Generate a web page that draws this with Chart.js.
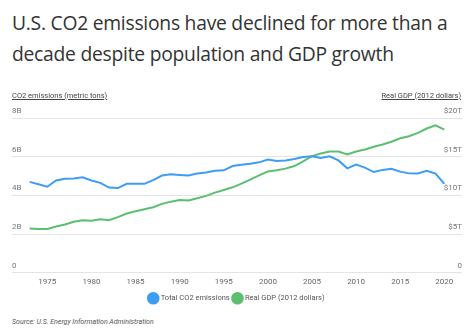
<!DOCTYPE html>
<html>
<head>
<meta charset="utf-8">
<script src="https://cdn.jsdelivr.net/npm/chart.js@4"></script>
<style>
  html, body { margin: 0; padding: 0; background: #fff; }
  body { width: 474px; height: 331px; position: relative; overflow: hidden; font-family: "Open Sans", sans-serif; }
  #title { position: absolute; left: 12px; top: 7px; width: 460px; font-size: 19.3px; line-height: 31px; color: #333; letter-spacing: -0.25px; }
  .axisTitle { position: absolute; top: 91px; font-family: Roboto, sans-serif; font-size: 7.5px; color: #444; text-decoration: underline; }
  #leftTitle { left: 12px; }
  #rightTitle { right: 13px; }
  #source { position: absolute; left: 12px; top: 318px; font-family: Roboto, sans-serif; font-size: 7px; font-style: italic; color: #555; }
  #wrap { position: absolute; left: 0; top: 0; width: 474px; height: 312px; }
</style>
</head>
<body>
<div id="title">U.S. CO2 emissions have declined for more than a decade despite population and GDP growth</div>
<div id="wrap"><canvas id="myChart"></canvas></div>
<div class="axisTitle" id="leftTitle">CO2 emissions (metric tons)</div>
<div class="axisTitle" id="rightTitle">Real GDP (2012 dollars)</div>
<div id="source">Source: U.S. Energy Information Administration</div>
<script>
// ข้อมูล
var years = [1973, 1974, 1975, 1976, 1977, 1978, 1979, 1980, 1981, 1982, 1983, 1984, 1985, 1986,
    1987, 1988, 1989, 1990, 1991, 1992, 1993, 1994, 1995, 1996, 1997, 1998, 1999, 2000, 2001, 2002,
    2003, 2004, 2005, 2006, 2007, 2008, 2009, 2010, 2011, 2012, 2013, 2014, 2015, 2016, 2017, 2018,
    2019, 2020];
// billion metric tons
var co2 = [4.70, 4.58, 4.45, 4.77, 4.86, 4.88, 4.94, 4.77, 4.65, 4.41, 4.38, 4.60, 4.60, 4.60,
    4.79, 5.03, 5.09, 5.06, 5.03, 5.13, 5.19, 5.28, 5.30, 5.52, 5.59, 5.64, 5.71, 5.86, 5.78, 5.81,
    5.88, 5.98, 6.02, 5.93, 6.02, 5.81, 5.40, 5.59, 5.44, 5.21, 5.32, 5.38, 5.23, 5.14, 5.13, 5.27,
    5.13, 4.60];
// trillion 2012 dollars
var gdp = [5.74, 5.66, 5.66, 6.00, 6.26, 6.60, 6.81, 6.72, 6.94, 6.81, 7.20, 7.67, 7.97, 8.23,
    8.48, 8.91, 9.20, 9.42, 9.34, 9.64, 9.94, 10.37, 10.70, 11.05, 11.53, 12.04, 12.60, 13.10, 13.24, 13.46,
    13.80, 14.40, 15.08, 15.42, 15.68, 15.68, 15.30, 15.68, 15.94, 16.28, 16.58, 16.93, 17.39, 17.65, 18.08, 18.64,
    19.06, 18.50];
var xTicks = [1975, 1980, 1985, 1990, 1995, 2000, 2005, 2010, 2015, 2020];
var leftTickLabels = ['0', '2B', '4B', '6B', '8B'];
var rightTickLabels = ['0', '$5T', '$10T', '$15T', '$20T'];

var blue = '#3d9df3';
var green = '#5cbf6f';
var tickFont = { family: 'Roboto', size: 8 };

var ctx = document.getElementById('myChart').getContext('2d');

var myChart = new Chart(ctx, {
    type: 'line',
    data: {
        datasets: [{
            label: 'Total CO2 emissions',
            data: years.map(function (y, i) { return { x: y, y: co2[i] }; }),
            borderColor: blue,
            backgroundColor: blue,
            borderWidth: 2,
            pointRadius: 0,
            tension: 0,
            yAxisID: 'y'
        }, {
            label: 'Real GDP (2012 dollars)',
            data: years.map(function (y, i) { return { x: y, y: gdp[i] }; }),
            borderColor: green,
            backgroundColor: green,
            borderWidth: 2,
            pointRadius: 0,
            tension: 0,
            yAxisID: 'y1'
        }]
    },
    options: {
        responsive: true,
        maintainAspectRatio: false,
        animation: false,
        layout: { padding: { left: 12, right: 12, top: 118, bottom: 0 } },
        scales: {
            x: {
                type: 'linear',
                min: 1971,
                max: 2022,
                afterBuildTicks: function (axis) {
                    axis.ticks = xTicks.map(function (v) { return { value: v }; });
                },
                grid: { display: false, drawTicks: false },
                border: { display: false },
                ticks: {
                    color: '#666',
                    font: tickFont,
                    padding: 4,
                    maxRotation: 0,
                    callback: function (v) { return String(v); }
                }
            },
            y: {
                position: 'left',
                min: 0,
                max: 8,
                afterBuildTicks: function (axis) {
                    axis.ticks = [0, 2, 4, 6, 8].map(function (v) { return { value: v }; });
                },
                grid: { color: '#e4e4e4', lineWidth: 1, drawTicks: false },
                border: { display: false },
                ticks: {
                    mirror: true,
                    padding: 0,
                    labelOffset: -7,
                    color: '#777',
                    font: tickFont,
                    callback: function (v, i) { return leftTickLabels[i]; }
                }
            },
            y1: {
                position: 'right',
                min: 0,
                max: 20,
                afterBuildTicks: function (axis) {
                    axis.ticks = [0, 5, 10, 15, 20].map(function (v) { return { value: v }; });
                },
                grid: { drawOnChartArea: false, drawTicks: false },
                border: { display: false },
                ticks: {
                    mirror: true,
                    padding: 0,
                    labelOffset: -7,
                    color: '#777',
                    font: tickFont,
                    callback: function (v, i) { return rightTickLabels[i]; }
                }
            }
        },
        plugins: {
            legend: {
                position: 'bottom',
                labels: {
                    usePointStyle: true,
                    pointStyle: 'circle',
                    boxWidth: 11,
                    boxHeight: 11,
                    padding: 4,
                    color: '#555',
                    font: { family: 'Roboto', size: 7.5 }
                }
            },
            tooltip: { enabled: false }
        }
    }
});
</script>
</body>
</html>
